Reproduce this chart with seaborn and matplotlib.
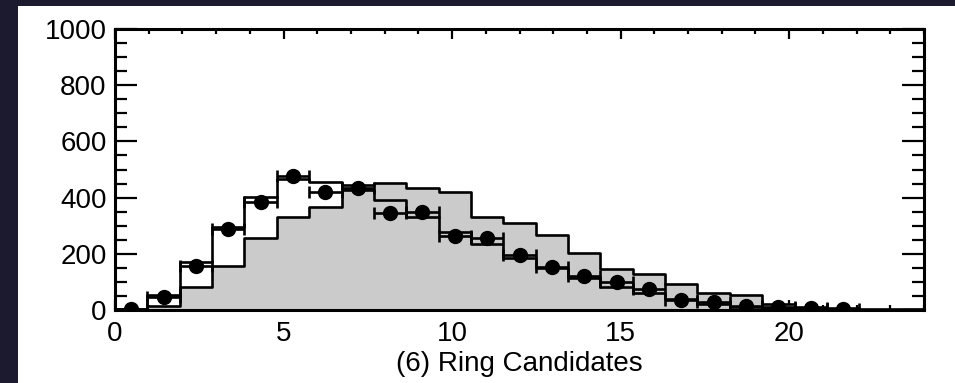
import numpy as np
import pandas as pd
import matplotlib.pyplot as plt
import seaborn as sns
from matplotlib.patches import Rectangle
from matplotlib.ticker import MultipleLocator

sns.set_style("ticks")
plt.rcParams['font.family'] = ['Liberation Sans', 'DejaVu Sans']

# histogram binning: 25 bins over 0..24
bin_width = 0.96
n_bins = 25

# grey filled histogram (simulation 1)
grey_counts = [0, 15, 81, 157, 257, 330, 368, 445, 453, 433, 419, 330, 308,
               267, 202, 145, 127, 92, 61, 53, 20, 12, 6, 3, 2]
# open histogram (simulation 2)
open_counts = [3, 55, 172, 297, 403, 465, 455, 428, 391, 330, 278, 235, 184,
               148, 113, 83, 59, 40, 22, 12, 8, 5, 3, 0, 0]
# data points
data_counts = [5, 47, 157, 288, 385, 478, 419, 433, 344, 350, 263, 255, 196,
               154, 122, 101, 74, 35, 30, 13, 12, 6, 4]

edges = (np.arange(n_bins + 1) * bin_width).tolist()
centers = np.arange(n_bins) * bin_width + bin_width / 2

df = pd.DataFrame({"rings": centers, "grey": grey_counts, "open": open_counts})

fig = plt.figure(figsize=(9.55, 3.83), dpi=100)
fig.patch.set_facecolor("#1c1a2e")
fig.patches.append(Rectangle((18 / 955, 0), 1, (383 - 6) / 383,
                             transform=fig.transFigure, facecolor="white",
                             edgecolor="none", zorder=-5))

ax = fig.add_axes([115 / 955, (383 - 310) / 383, (924 - 115) / 955, (310 - 29) / 383])
ax.set_zorder(2)
ax.set_facecolor("white")

sns.histplot(data=df, x="rings", weights="grey", bins=edges, element="step",
             fill=True, color="#cbcbcb", alpha=1, edgecolor="black",
             linewidth=1.9, ax=ax)
sns.histplot(data=df, x="rings", weights="open", bins=edges, element="step",
             fill=False, color="black", linewidth=1.9, ax=ax)

ax.errorbar(centers[:len(data_counts)], data_counts, xerr=bin_width / 2,
            fmt="o", color="black", markersize=10, elinewidth=1.9,
            capsize=4.5, capthick=1.9, zorder=5)

ax.set_xlim(0, 24)
ax.set_ylim(0, 1000)
ax.xaxis.set_major_locator(MultipleLocator(5))
ax.xaxis.set_minor_locator(MultipleLocator(1))
ax.yaxis.set_major_locator(MultipleLocator(200))
ax.yaxis.set_minor_locator(MultipleLocator(50))

ax.tick_params(axis="both", which="both", direction="in", top=True, right=True,
               labelsize=20, color="black", labelcolor="black", width=1.6)
ax.tick_params(axis="y", which="major", length=16, pad=6)
ax.tick_params(axis="y", which="minor", length=8.5)
ax.tick_params(axis="x", which="major", length=7, pad=8)
ax.tick_params(axis="x", which="minor", length=3.5)
for s in ax.spines.values():
    s.set_linewidth(2.2)
    s.set_color("black")

ax.set_xlabel("(6) Ring Candidates", fontsize=20, labelpad=3, color="black")
ax.set_ylabel("")

fig.savefig("out.png", dpi=100, facecolor=fig.get_facecolor())
